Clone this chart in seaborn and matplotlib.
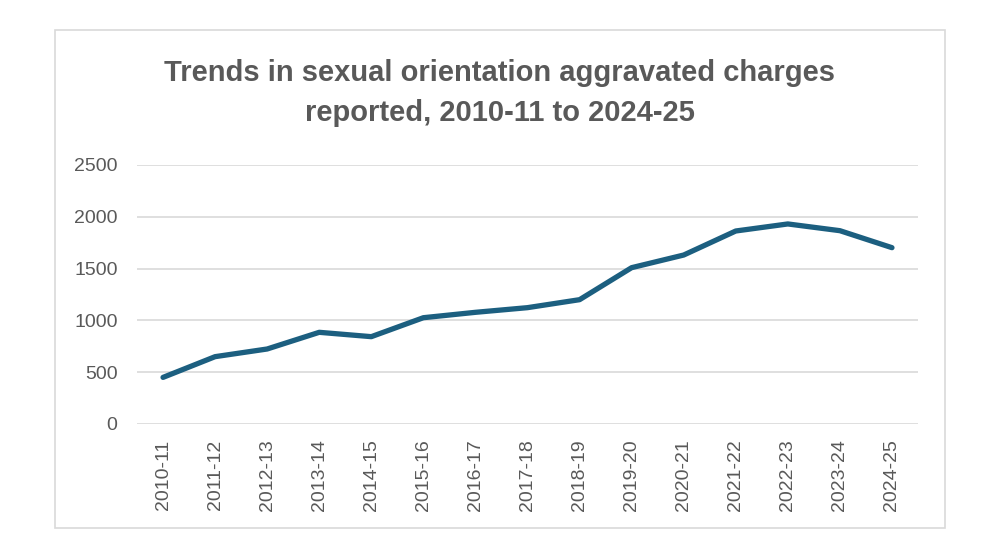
import matplotlib
matplotlib.use("Agg")
import matplotlib.pyplot as plt
import seaborn as sns
import pandas as pd
from matplotlib.patches import Rectangle

years = ["2010-11", "2011-12", "2012-13", "2013-14", "2014-15", "2015-16", "2016-17",
         "2017-18", "2018-19", "2019-20", "2020-21", "2021-22", "2022-23", "2023-24", "2024-25"]
charges = [450, 650, 724, 885, 843, 1026, 1078, 1123, 1200, 1509, 1631, 1863, 1931, 1866, 1702]
y_ticks = [0, 500, 1000, 1500, 2000, 2500]
title = "Trends in sexual orientation aggravated charges\nreported, 2010-11 to 2024-25"

sns.set_theme(style="white")
plt.rcParams['font.family'] = ['Liberation Sans', 'DejaVu Sans']

df = pd.DataFrame({"year": years, "charges": charges})

fig = plt.figure(figsize=(10, 5.6), dpi=100)
ax = fig.add_axes([0.137, 1 - 424 / 560, 0.781, (424 - 165) / 560])

sns.lineplot(data=df, x="year", y="charges", ax=ax, color="#1C5F80", linewidth=3.8,
             solid_capstyle="round", solid_joinstyle="round", sort=False)

ax.set_xlim(-0.5, len(years) - 0.5)
ax.set_ylim(0, 2500)
ax.set_yticks(y_ticks)
ax.set_yticklabels([str(v) for v in y_ticks])
ax.set_xticks(range(len(years)))
ax.set_xticklabels(years, rotation=90)
ax.yaxis.grid(True, color="#D9D9D9", linewidth=1.2)
ax.set_axisbelow(True)
for s in ax.spines.values():
    s.set_visible(False)
ax.set_xlabel("")
ax.set_ylabel("")
ax.tick_params(axis="y", length=0, pad=14, labelsize=14, labelcolor="#595959")
ax.tick_params(axis="x", length=0, pad=11, labelsize=14, labelcolor="#595959")

fig.text(0.5, 1 - 93 / 560, title, ha="center", va="center", fontsize=21,
         fontweight="bold", color="#595959", linespacing=1.55)

fig.add_artist(Rectangle((0.055, 1 - 528 / 560), 0.89, (528 - 30) / 560,
                         transform=fig.transFigure, fill=False,
                         edgecolor="#D9D9D9", linewidth=1.2))

fig.savefig("out.png", dpi=100, facecolor="white")
